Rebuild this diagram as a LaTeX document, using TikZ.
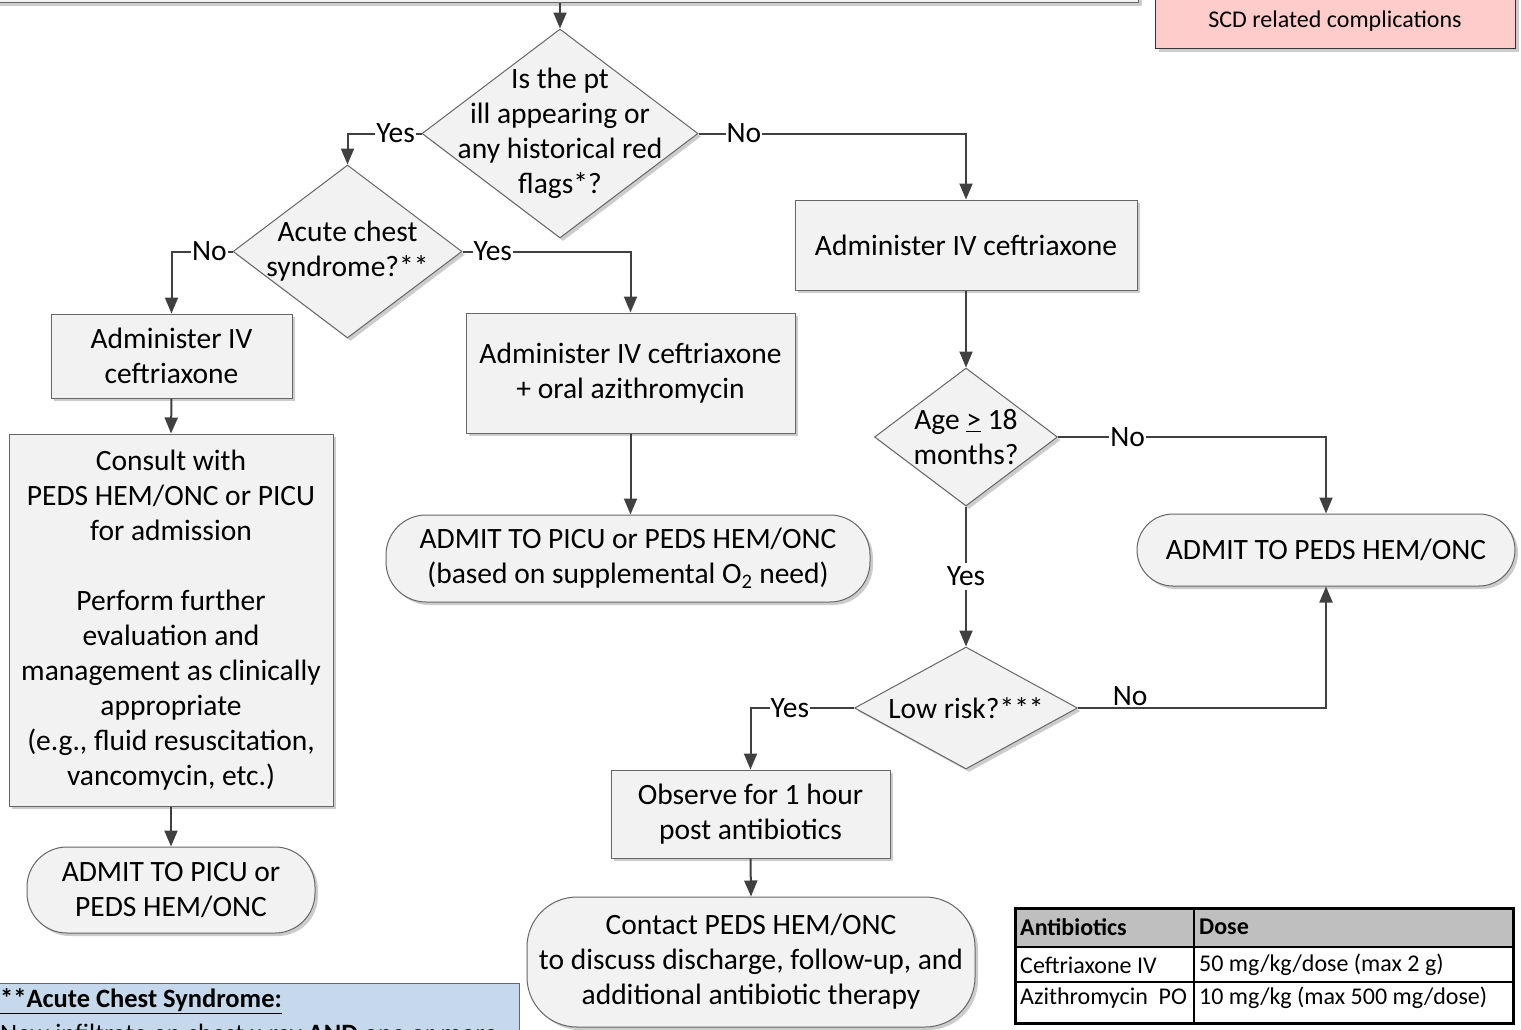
\documentclass[tikz,border=0pt]{standalone}
\usepackage{fontspec}
\setmainfont{Carlito}
\usepackage{xcolor}
\usepackage{tikz}
\usetikzlibrary{shapes.geometric, shadows, arrows.meta}

\definecolor{flagpink}{RGB}{255,204,204}
\definecolor{acsblue}{RGB}{198,217,236}
\definecolor{headgray}{RGB}{191,191,191}

\begin{document}
\begin{tikzpicture}[x=1pt, y=-1pt,
    font=\fontsize{29.5}{35}\selectfont,
    base/.style={draw=black!60, line width=1pt, fill=black!5, inner sep=0pt,
      drop shadow={shadow xshift=3pt, shadow yshift=-3pt, fill=black!20, opacity=1}},
    process/.style={base, rectangle, align=center},
    decision/.style={base, diamond},
    terminal/.style={base, rectangle, rounded corners=40pt, align=center},
    txt/.style={align=center, inner sep=0pt},
    arr/.style={draw=black!75, line width=2pt, -{Triangle[width=13pt,length=16pt]}},
    lbl/.style={fill=white, inner sep=1pt}]
        \useasboundingbox (0,0) rectangle (1521,1029);
        \clip (0,0) rectangle (1521,1029);

        % Boxes cut off at the edges
        \node[process, anchor=south west, minimum width=1148pt, minimum height=60pt] (topbox) at (-10,3) {};
        \node[base, rectangle, draw=black!80, fill=flagpink, anchor=south west, minimum width=360pt, minimum height=100pt] (flags) at (1155,49) {};
        \node[txt, font=\fontsize{24}{30}\selectfont] (flagst) at (1335,21) {SCD related complications};

        % Decisions
        \node[decision, minimum width=276pt, minimum height=209pt] (q1) at (560,133.5) {};
        \node[txt] (q1t) at (q1) {Is the pt\\ill appearing or\\any historical red\\flags*?};
        \node[decision, minimum width=229pt, minimum height=173pt] (q2) at (347.5,251.5) {};
        \node[txt] (q2t) at (q2) {Acute chest\\syndrome?**};
        \node[decision, minimum width=183pt, minimum height=138pt] (age) at (966,437) {};
        \node[txt] (aget) at (age) {Age \underline{>} 18\\months?};
        \node[decision, minimum width=223pt, minimum height=122pt] (low) at (966,708) {};
        \node[txt] (lowt) at (low) {Low risk?***};

        % Steps
        \node[process, minimum width=342pt, minimum height=90pt] (b1) at (966,245) {Administer IV ceftriaxone};
        \node[process, minimum width=329pt, minimum height=120pt] (b2) at (630.5,373) {Administer IV ceftriaxone\\+ oral azithromycin};
        \node[process, minimum width=241pt, minimum height=84pt] (b3) at (171.5,356) {Administer IV\\ceftriaxone};
        \node[process, minimum width=324pt, minimum height=372pt] (b4) at (171,620) {Consult with\\PEDS HEM/ONC or PICU\\for admission\\[35pt]Perform further\\evaluation and\\management as clinically\\appropriate\\(e.g., fluid resuscitation,\\vancomycin, etc.)};
        \node[process, minimum width=279pt, minimum height=88pt] (b5) at (750.5,814) {Observe for 1 hour\\post antibiotics};

        % Ends
        \node[terminal, minimum width=288pt, minimum height=86pt] (t1) at (171,890) {ADMIT TO PICU or\\PEDS HEM/ONC};
        \node[terminal, minimum width=484pt, minimum height=87pt] (t2) at (628,558.5) {ADMIT TO PICU or PEDS HEM/ONC\\(based on supplemental O\textsubscript{2} need)};
        \node[terminal, minimum width=378pt, minimum height=72pt, rounded corners=36pt] (t3) at (1326,550) {ADMIT TO PEDS HEM/ONC};
        \node[terminal, minimum width=448pt, minimum height=130pt, rounded corners=50pt] (t4) at (751,962) {Contact PEDS HEM/ONC\\to discuss discharge, follow-up, and\\additional antibiotic therapy};

        % Connectors
        \draw[arr] (topbox.south -| q1.north) -- (q1.north);
        \draw[arr] (q1.west) -- node[lbl, pos=0.35] {Yes} (q1.west -| q2.north) -- (q2.north);
        \draw[arr] (q1.east) -- node[lbl, pos=0.17] {No} (q1.east -| b1.north) -- (b1.north);
        \draw[arr] (q2.west) -- node[lbl, pos=0.38] {No} (q2.west -| b3.north) -- (b3.north);
        \draw[arr] (q2.east) -- node[lbl, pos=0.18] {Yes} (q2.east -| b2.north) -- (b2.north);
        \draw[arr] (b3.south) -- (b4.north);
        \draw[arr] (b4.south) -- (t1.north);
        \draw[arr] (b2.south) -- (b2.south |- t2.north);
        \draw[arr] (b1.south) -- (age.north);
        \draw[arr] (age.east) -- node[lbl, pos=0.26] {No} (age.east -| t3.north) -- (t3.north);
        \draw[arr] (age.south) -- node[lbl, inner sep=4pt] {Yes} (low.north);
        \draw[arr] (low.east) -- node[above, pos=0.21, inner sep=1pt] {No} (low.east -| t3.south) -- (t3.south);
        \draw[arr] (low.west) -- node[lbl, pos=0.62] {Yes} (low.west -| b5.north) -- (b5.north);
        \draw[arr] (b5.south) -- (t4.north);

        % Dose table
        \fill[headgray] (1015,908) rectangle (1513,947);
        \draw[line width=1.5pt] (1015,947) -- (1513,947);
        \draw[line width=1.5pt] (1015,982) -- (1513,982);
        \draw[line width=1.5pt] (1194,908) -- (1194,1023);
        \draw[line width=3pt] (1015,908) rectangle (1513,1023);
        \begin{scope}[every node/.style={anchor=west, inner sep=0pt, font=\fontsize{24}{30}\selectfont}]
            \node (abx) at (1020,927) {\textbf{Antibiotics}};
            \node (dose) at (1199,927) {\textbf{Dose}};
            \node (ctx) at (1020,965) {Ceftriaxone IV};
            \node (ctxd) at (1199,965) {50 mg/kg/dose (max 2 g)};
            \node (azi) at (1020,998) {Azithromycin\ \ PO};
            \node (azid) at (1199,998) {10 mg/kg (max 500 mg/dose)};
        \end{scope}

        % Acute chest syndrome note
        \node[rectangle, draw=black!60, line width=1pt, fill=acsblue, anchor=north west, minimum width=529pt, minimum height=120pt] (acs) at (-10,983) {};
        \node[anchor=north west, align=left, inner sep=0pt, font=\fontsize{26.5}{35}\selectfont] (acst) at (0,988) {\textbf{\underline{**Acute Chest Syndrome:}}\\New infiltrate on chest x-ray \textbf{AND} one or more};

    \end{tikzpicture}
\end{document}
